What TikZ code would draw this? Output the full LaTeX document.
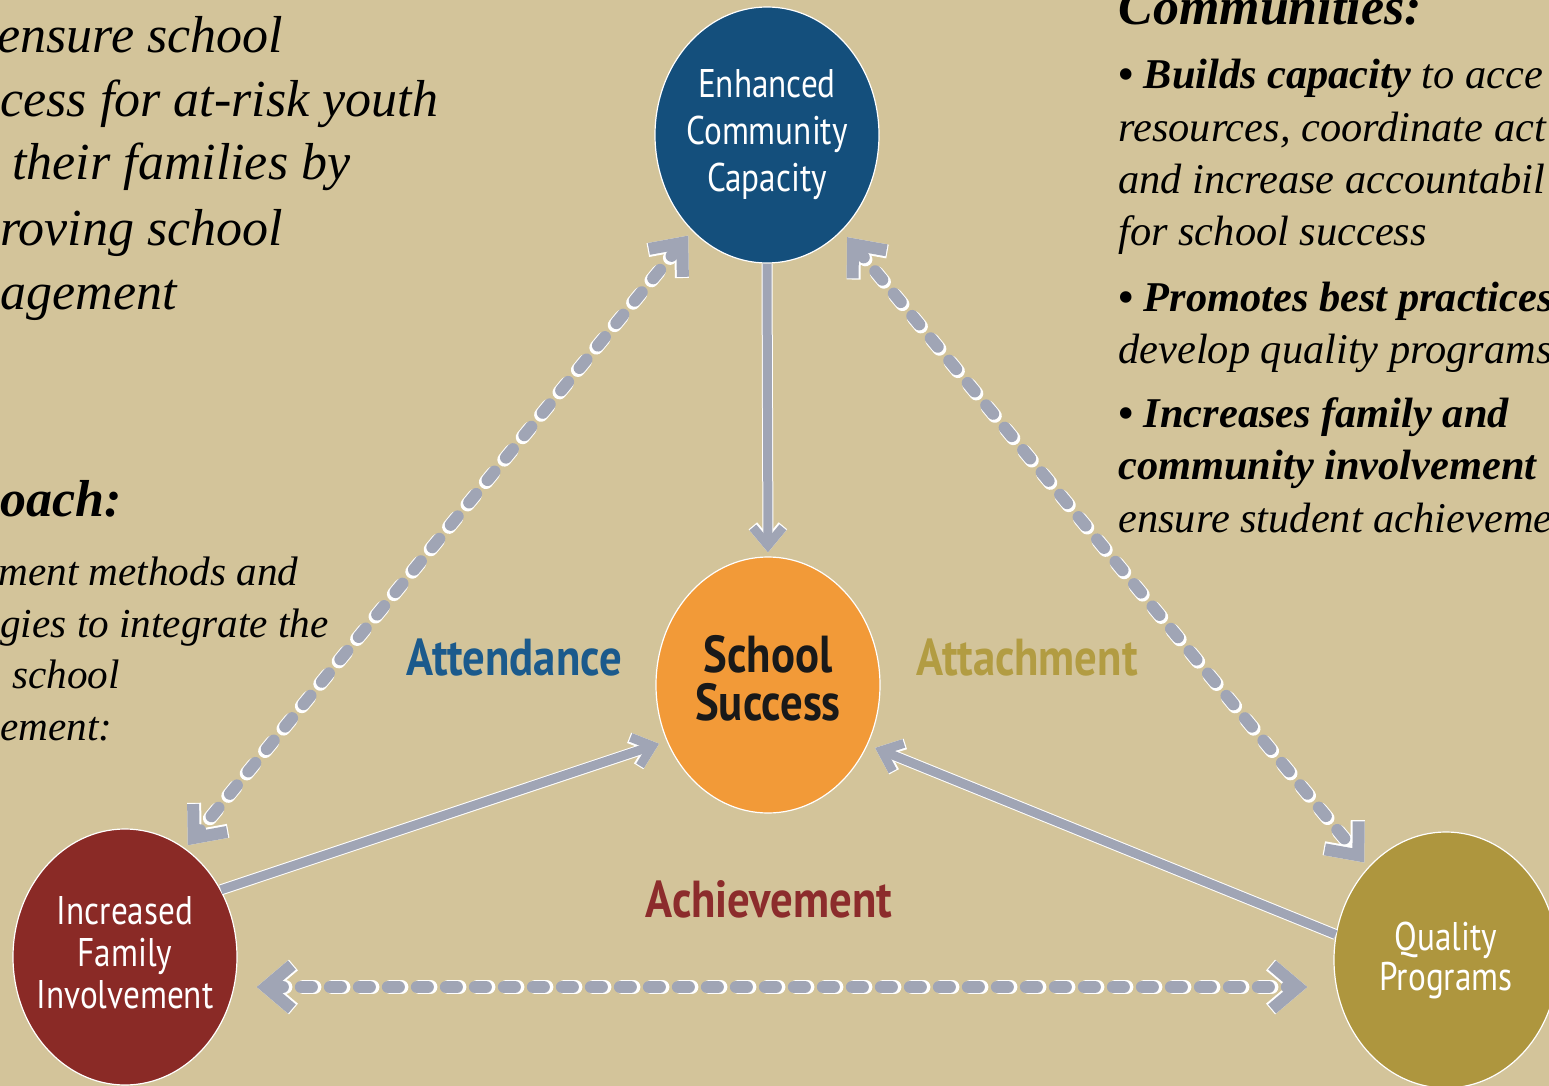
\documentclass[tikz,border=0pt]{standalone}
\usepackage{fontspec}
\setmainfont{Liberation Serif}
\newfontfamily\cond[FakeStretch=0.83]{PT Sans}
\newfontfamily\condb[FakeStretch=0.86]{PT Sans}
\usetikzlibrary{shapes.geometric,arrows.meta}
\definecolor{bg}{RGB}{211,196,154}
\definecolor{eccblue}{RGB}{20,79,124}
\definecolor{ssorange}{RGB}{242,154,56}
\definecolor{ifired}{RGB}{138,42,38}
\definecolor{qpolive}{RGB}{174,150,62}
\definecolor{agray}{RGB}{160,165,181}
\definecolor{attblue}{RGB}{27,90,140}
\definecolor{attolive}{RGB}{178,156,66}
\definecolor{achred}{RGB}{140,44,44}
\tikzset{
  bubble/.style={ellipse, minimum width=112pt, minimum height=128pt, inner sep=-10pt,
    draw=white, line width=0.6pt, align=center},
  solidg/.style={draw=agray, line width=4.5pt, -{Straight Barb[length=9pt,width=15pt]}},
  solidw/.style={draw=white, line width=5.5pt, -{Straight Barb[length=9pt,width=15pt]}},
  dashg/.style={draw=agray, line width=6pt, line cap=round, dash pattern=on 5.5pt off 9pt,
    {Straight Barb[length=13pt,width=22pt]}-{Straight Barb[length=13pt,width=22pt]}},
  dashw/.style={draw=white, line width=7pt, line cap=round, dash pattern=on 5.5pt off 9pt,
    {Straight Barb[length=13pt,width=22pt]}-{Straight Barb[length=13pt,width=22pt]}},
  body/.style={anchor=base west, inner sep=0pt, font=\itshape\fontsize{21.2}{26}\selectfont},
  lbody/.style={anchor=base west, inner sep=0pt, font=\itshape\fontsize{20.6}{26}\selectfont},
  bigbody/.style={anchor=base west, inner sep=0pt, font=\itshape\fontsize{26}{31}\selectfont},
  lab/.style={anchor=base, inner sep=0pt, font=\condb\bfseries\fontsize{26}{26}\selectfont}
}
\begin{document}
\begin{tikzpicture}[x=0.5pt,y=-0.5pt]
\fill[bg] (0,0) rectangle (1549,1086);
\useasboundingbox (0,0) rectangle (1549,1086);

% bubbles
\node[bubble, fill=eccblue, text=white, font=\cond\fontsize{20}{23.5}\selectfont] (ecc) at (767,135) {Enhanced\\Community\\Capacity};
\node[bubble, fill=ssorange, text=black!90, font=\condb\bfseries\fontsize{26}{24}\selectfont] (ss) at (768,685) {School\\Success\\[-17pt]};
\node[bubble, fill=ifired, text=white, font=\cond\fontsize{20}{21}\selectfont] (ifi) at (125,957) {Increased\\Family\\Involvement\\[-16pt]};
\node[bubble, fill=qpolive, text=white, font=\cond\fontsize{20}{20}\selectfont] (qp) at (1446,960) {Quality\\Programs};

% labels
\node[lab, text=attblue] (att) at (514,675) {Attendance};
\node[lab, text=attolive] (atc) at (1027,675) {Attachment};
\node[lab, text=achred] (ach) at (769,917) {Achievement};

% solid connectors
\draw[solidw, shorten >=2pt] (ecc.south) -- (ss.north);
\draw[solidg, shorten >=2pt] (ecc.south) -- (ss.north);
\draw[solidw, shorten >=4pt] (ifi.35) -- (ss.209);
\draw[solidg, shorten >=4pt] (ifi.35) -- (ss.209);
\draw[solidw, shorten >=4pt] (qp.167) -- (ss.329.5);
\draw[solidg, shorten >=4pt] (qp.167) -- (ss.329.5);

% dashed connectors
\draw[dashw, shorten <=3pt, shorten >=2pt] (ecc.232) -- (ifi.61);
\draw[dashg, shorten <=3pt, shorten >=2pt] (ecc.232) -- (ifi.61);
\draw[dashw, shorten <=4pt, shorten >=3pt] (ecc.308) -- (qp.130.6);
\draw[dashg, shorten <=4pt, shorten >=3pt] (ecc.308) -- (qp.130.6);
\draw[dashw, shorten <=9.5pt, shorten >=13pt] ([yshift=-15pt]ifi.east) -- ([yshift=-13.5pt]qp.west);
\draw[dashg, shorten <=9.5pt, shorten >=13pt] ([yshift=-15pt]ifi.east) -- ([yshift=-13.5pt]qp.west);

% top-left text
\node[bigbody] (tl1) at (-3,53) {ensure school};
\node[bigbody] (tl2) at (0,117) {cess for at-risk youth};
\node[bigbody] (tl3) at (12,180) {their families by};
\node[bigbody] (tl4) at (0,245) {roving school};
\node[bigbody] (tl5) at (0,309) {agement};

% lower-left text
\node[bigbody, font=\bfseries\itshape\fontsize{26}{31}\selectfont] (bl0) at (0,516) {oach:};
\node[lbody] (bl1) at (-2,585) {ment methods and};
\node[lbody] (bl2) at (0,637) {gies to integrate the};
\node[lbody] (bl3) at (12,688) {school};
\node[lbody] (bl4) at (0,740) {ement:};

% right text
\node[bigbody, font=\bfseries\itshape\fontsize{26}{31}\selectfont] (r0) at (1118,25) {Communities:};
\node[body] (r1) at (1118,89) {\textbf{• Builds capacity} to acce};
\node[body] (r2) at (1118,142) {resources, coordinate act};
\node[body] (r3) at (1118,194) {and increase accountabil};
\node[body] (r4) at (1118,245) {for school success};
\node[body] (r5) at (1118,311) {\textbf{• Promotes best practices}};
\node[body] (r6) at (1118,363) {develop quality programs};
\node[body] (r7) at (1118,427) {\textbf{• Increases family and}};
\node[body] (r8) at (1118,479) {\textbf{community involvement}};
\node[body] (r9) at (1118,532) {ensure student achieveme};
\end{tikzpicture}
\end{document}
